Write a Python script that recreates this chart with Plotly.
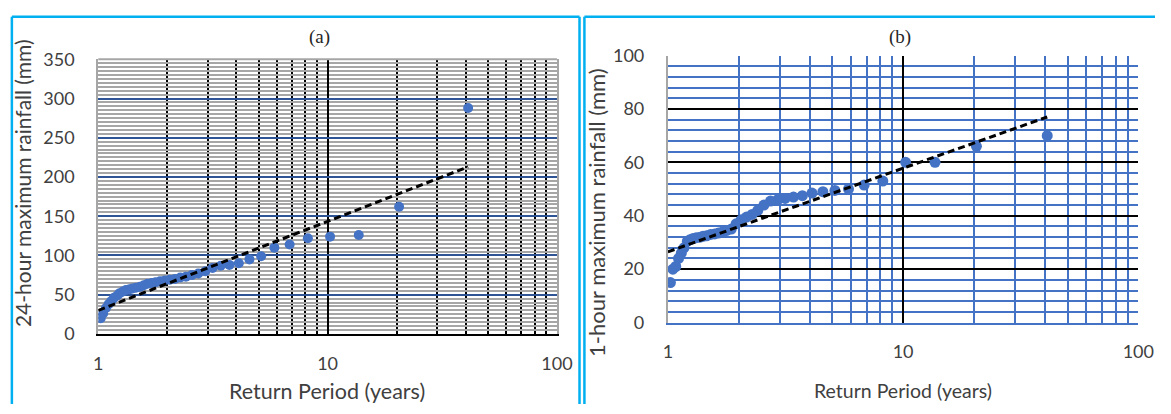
import plotly.graph_objects as go

# ---- data ----
return_period = [41.0, 20.5, 13.67, 10.25, 8.2, 6.83, 5.86, 5.13, 4.56, 4.1,
                 3.73, 3.42, 3.15, 2.93, 2.73, 2.56, 2.41, 2.28, 2.16, 2.05,
                 1.95, 1.86, 1.78, 1.71, 1.64, 1.58, 1.52, 1.46, 1.41, 1.37,
                 1.32, 1.28, 1.24, 1.21, 1.17, 1.14, 1.11, 1.08, 1.05, 1.025]
rain_24h = [288, 162, 126, 124, 122, 114, 110, 99, 95, 90,
            88, 87, 84, 80, 77, 75, 73, 72, 70, 69,
            68, 67, 66, 65, 64, 62, 60, 59, 58, 57,
            56, 54, 52, 49, 46, 42, 38, 33, 26, 20]
rain_1h = [70, 66, 60, 60, 53, 51.5, 50, 49.5, 49, 48.5,
           47.5, 47, 46.5, 46, 45.5, 44, 42, 40.5, 39.5, 38.5,
           37, 35, 34.5, 34, 33.5, 33.2, 33, 32.5, 32.3, 32,
           31.8, 31.5, 31, 30.5, 28, 26, 24, 21, 20, 15]
trend_T = [1.0, 41.0]
trend_24h = [30, 213]
trend_1h = [26.5, 77]

x_tick_vals = [1, 10, 100]
x_tick_text = ["1", "10", "100"]
x_minor_vals = [2, 3, 4, 5, 6, 7, 8, 9, 20, 30, 40, 50, 60, 70, 80, 90]

W, H = 1171, 414
def px(x): return x / W
def py(y): return 1 - y / H

FONT = "Lato"
TXT = "#404040"
MARK = "#4472C4"
CYAN = "#00B0F0"

fig = go.Figure()
fig.add_trace(go.Scatter(x=return_period, y=rain_24h, mode="markers",
                         marker=dict(color=MARK, size=10), xaxis="x", yaxis="y",
                         showlegend=False))
fig.add_trace(go.Scatter(x=trend_T, y=trend_24h, mode="lines",
                         line=dict(color="black", width=3, dash="7px,4px"),
                         xaxis="x", yaxis="y", showlegend=False))
fig.add_trace(go.Scatter(x=return_period, y=rain_1h, mode="markers",
                         marker=dict(color=MARK, size=11), xaxis="x2", yaxis="y2",
                         showlegend=False))
fig.add_trace(go.Scatter(x=trend_T, y=trend_1h, mode="lines",
                         line=dict(color="black", width=3, dash="7px,4px"),
                         xaxis="x2", yaxis="y2", showlegend=False))

tickfont = dict(family=FONT, size=18, color=TXT)

fig.update_layout(
    width=W, height=H, margin=dict(l=0, r=0, t=0, b=0),
    paper_bgcolor="white", plot_bgcolor="white",
    xaxis=dict(type="log", range=[0, 2], domain=[px(95), px(562)], anchor="y",
               tickvals=x_tick_vals, ticktext=x_tick_text, ticks="",
               showgrid=True, gridcolor="black", gridwidth=2,
               minor=dict(tickvals=x_minor_vals, showgrid=True, gridcolor="black", gridwidth=2),
               showline=True, linecolor="black", linewidth=2,
               tickfont=tickfont, ticklabelstandoff=12, zeroline=False),
    yaxis=dict(range=[0, 350], domain=[py(340), py(50)], anchor="x",
               tick0=0, dtick=50, ticks="",
               showgrid=True, gridcolor="#2F5597", gridwidth=2,
               minor=dict(dtick=5, showgrid=True, gridcolor="#A6A6A6", gridwidth=1.5),
               showline=True, linecolor="#A6A6A6", linewidth=2, mirror=True,
               tickfont=tickfont, ticklabelstandoff=18, zeroline=False),
    xaxis2=dict(type="log", range=[0, 2], domain=[px(675), px(1154)], anchor="y2",
                tickvals=x_tick_vals, ticktext=x_tick_text, ticks="",
                showgrid=True, gridcolor="black", gridwidth=2,
                minor=dict(tickvals=x_minor_vals, showgrid=True, gridcolor=MARK, gridwidth=2),
                showline=True, linecolor=MARK, linewidth=2,
                tickfont=tickfont, ticklabelstandoff=12, zeroline=False),
    yaxis2=dict(range=[0, 100], domain=[py(328), py(46)], anchor="x2",
                tick0=0, dtick=20, ticks="",
                showgrid=True, gridcolor="black", gridwidth=2,
                minor=dict(dtick=4, showgrid=True, gridcolor=MARK, gridwidth=2),
                showline=True, linecolor="#A6A6A6", linewidth=2,
                tickfont=tickfont, ticklabelstandoff=18, zeroline=False),
)

# panel frames (cyan), drawn as separate lines inside the page
def seg(x0, y0, x1, y1, color=CYAN, width=2.5, xref="paper", yref="paper"):
    fig.add_shape(type="line", xref=xref, yref=yref, x0=x0, y0=y0, x1=x1, y1=y1,
                  line=dict(color=color, width=width), layer="above")

seg(px(7), py(5), px(585), py(5))      # top (a)
seg(px(7), 0, px(7), py(5))            # left (a)
seg(px(585), 0, px(585), py(5))        # right (a)
seg(px(590), py(5), 1, py(5))          # top (b)
seg(px(590), 0, px(590), py(5))        # left (b)
# grey top border of plot (a)
seg(0, 1, 1, 1, color="#A6A6A6", width=2, xref="x domain", yref="y domain")

ann = []
ann.append(dict(text="(a)", x=px(320), y=py(26), font=dict(family="Liberation Serif", size=19, color="#262626")))
ann.append(dict(text="(b)", x=px(911), y=py(26), font=dict(family="Liberation Serif", size=19, color="#262626")))
ann.append(dict(text="Return Period (years)", x=px(328), y=py(400), font=dict(family=FONT, size=21.5, color=TXT)))
ann.append(dict(text="Return Period (years)", x=px(914), y=py(400), font=dict(family=FONT, size=19.5, color=TXT)))
ann.append(dict(text="24-hour maximum rainfall (mm)", x=px(18), y=py(181), textangle=-90,
                font=dict(family=FONT, size=21, color=TXT)))
ann.append(dict(text="1-hour maximum rainfall (mm)", x=px(603), y=py(212), textangle=-90,
                font=dict(family=FONT, size=22, color=TXT)))
for a in ann:
    a.update(xref="paper", yref="paper", showarrow=False, xanchor="center", yanchor="middle")
fig.update_layout(annotations=ann)

fig.write_html("out.html",
               post_script="document.body.style.margin='0';document.body.style.overflow='hidden';")
